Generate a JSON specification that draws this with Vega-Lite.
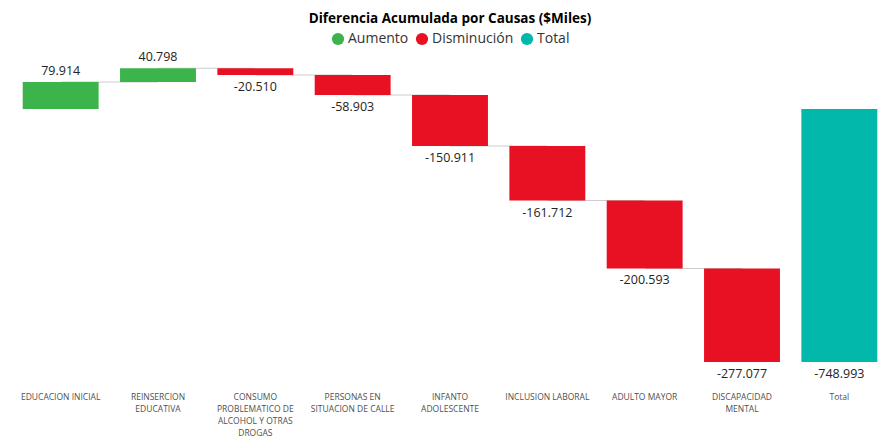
{
  "$schema": "https://vega.github.io/schema/vega-lite/v6.json",
  "width": 876,
  "height": 320,
  "autosize": {"type": "none"},
  "padding": {"left": 12, "top": 65, "right": 0, "bottom": 57},
  "background": "white",
  "title": {
    "text": "Diferencia Acumulada por Causas ($Miles)",
    "anchor": "middle",
    "font": "Open Sans",
    "fontSize": 13.5,
    "fontWeight": "bold",
    "color": "#000000",
    "offset": 7
  },
  "config": {"view": {"stroke": null}},
  "data": {
    "values": [
      {"cat": "EDUCACION INICIAL", "start": 0, "end": 79.914, "val": 79.914, "lab": "79.914", "tipo": "Aumento", "conn": 1},
      {"cat": "REINSERCION|EDUCATIVA", "start": 79.914, "end": 120.712, "val": 40.798, "lab": "40.798", "tipo": "Aumento", "conn": 1},
      {"cat": "CONSUMO|PROBLEMATICO DE|ALCOHOL Y OTRAS|DROGAS", "start": 120.712, "end": 100.202, "val": -20.510, "lab": "-20.510", "tipo": "Disminución", "conn": 1},
      {"cat": "PERSONAS EN|SITUACION DE CALLE", "start": 100.202, "end": 41.299, "val": -58.903, "lab": "-58.903", "tipo": "Disminución", "conn": 1},
      {"cat": "INFANTO|ADOLESCENTE", "start": 41.299, "end": -109.612, "val": -150.911, "lab": "-150.911", "tipo": "Disminución", "conn": 1},
      {"cat": "INCLUSION LABORAL", "start": -109.612, "end": -271.324, "val": -161.712, "lab": "-161.712", "tipo": "Disminución", "conn": 1},
      {"cat": "ADULTO MAYOR", "start": -271.324, "end": -471.917, "val": -200.593, "lab": "-200.593", "tipo": "Disminución", "conn": 1},
      {"cat": "DISCAPACIDAD|MENTAL", "start": -471.917, "end": -748.993, "val": -277.077, "lab": "-277.077", "tipo": "Disminución", "conn": 0},
      {"cat": "Total", "start": 0, "end": -748.993, "val": -748.993, "lab": "-748.993", "tipo": "Total", "conn": 0}
    ]
  },
  "layer": [
    {
      "transform": [{"filter": "datum.conn == 1"}],
      "mark": {"type": "tick", "orient": "horizontal", "color": "#B8B8B8", "thickness": 1, "size": 97, "xOffset": 48.7},
      "encoding": {
        "x": {"field": "cat", "type": "nominal", "sort": null, "scale": {"paddingInner": 0.22, "paddingOuter": 0.11}},
        "y": {"field": "end", "type": "quantitative", "scale": {"domain": [-817, 130], "nice": false, "zero": false}, "axis": null}
      }
    },
    {
      "mark": {"type": "bar"},
      "encoding": {
        "x": {
          "field": "cat",
          "type": "nominal",
          "sort": null,
          "scale": {"paddingInner": 0.22, "paddingOuter": 0.11},
          "axis": {
            "title": null,
            "orient": "bottom",
            "domain": false,
            "ticks": false,
            "labelAngle": 0,
            "labelAlign": "center",
            "labelExpr": "split(datum.value, '|')",
            "labelFont": "Open Sans",
            "labelFontSize": 8.5,
            "labelColor": "#505050",
            "labelPadding": 7,
            "labelBaseline": "top",
            "labelLineHeight": 12,
            "labelLimit": 200
          }
        },
        "y": {
          "field": "start",
          "type": "quantitative",
          "scale": {"domain": [-817, 130], "nice": false, "zero": false},
          "axis": null
        },
        "y2": {"field": "end"},
        "color": {
          "field": "tipo",
          "type": "nominal",
          "scale": {"domain": ["Aumento", "Disminución", "Total"], "range": ["#3CB44B", "#E81123", "#01B8AA"]},
          "legend": {
            "title": null,
            "orient": "none",
            "direction": "horizontal",
            "legendX": 319,
            "legendY": -33,
            "symbolType": "circle",
            "symbolSize": 150,
            "symbolStrokeWidth": 0,
            "labelFont": "Open Sans",
            "labelFontSize": 14,
            "labelColor": "#333333",
            "columnPadding": 6,
            "labelOffset": 3
          }
        }
      }
    },
    {
      "transform": [{"filter": "datum.val > 0"}],
      "mark": {"type": "text", "baseline": "bottom", "dy": -4, "font": "Open Sans", "fontSize": 12.5, "color": "#252423"},
      "encoding": {
        "x": {"field": "cat", "type": "nominal", "sort": null, "scale": {"paddingInner": 0.22, "paddingOuter": 0.11}},
        "y": {"field": "end", "type": "quantitative", "scale": {"domain": [-817, 130], "nice": false, "zero": false}, "axis": null},
        "text": {"field": "lab", "type": "nominal"}
      }
    },
    {
      "transform": [{"filter": "datum.val < 0"}],
      "mark": {"type": "text", "baseline": "top", "dy": 6, "font": "Open Sans", "fontSize": 12.5, "color": "#252423"},
      "encoding": {
        "x": {"field": "cat", "type": "nominal", "sort": null, "scale": {"paddingInner": 0.22, "paddingOuter": 0.11}},
        "y": {"field": "end", "type": "quantitative", "scale": {"domain": [-817, 130], "nice": false, "zero": false}, "axis": null},
        "text": {"field": "lab", "type": "nominal"}
      }
    }
  ]
}
